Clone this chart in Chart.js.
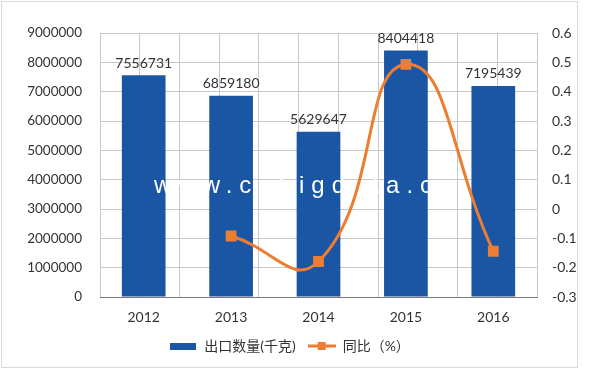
<!DOCTYPE html>
<html>
<head>
<meta charset="utf-8">
<script src="https://cdn.jsdelivr.net/npm/chart.js@4"></script>
<style>
  body { margin: 0; background: #fff; }
  #wrap { position: absolute; left: 1px; top: 1px; width: 575px; height: 365px; border: 1px solid #d9d9d9; }
</style>
</head>
<body>
<div id="wrap"><canvas id="chart"></canvas></div>
<script>
// data
const years = ['2012', '2013', '2014', '2015', '2016'];
const exportQty = [7556731, 6859180, 5629647, 8404418, 7195439];
const yoy = [null, -0.092, -0.179, 0.493, -0.144];
const leftTicks = [0, 9000000, 1000000];   // min, max, step
const rightTicks = [-0.3, 0.6, 0.1];

const BLUE = '#1b56a4';
const ORANGE = '#ed7d31';
const TXT = '#333333';
const FONT = "Lato, 'Noto Sans CJK SC', sans-serif";

// legend icons
function barIcon() {
    const c = document.createElement('canvas');
    c.width = 26; c.height = 7;
    const g = c.getContext('2d');
    g.fillStyle = BLUE;
    g.fillRect(0, 0, 26, 7);
    return c;
}
function lineIcon() {
    const c = document.createElement('canvas');
    c.width = 28; c.height = 10;
    const g = c.getContext('2d');
    g.strokeStyle = ORANGE;
    g.lineWidth = 3;
    g.beginPath(); g.moveTo(0, 5); g.lineTo(28, 5); g.stroke();
    g.fillStyle = ORANGE;
    g.fillRect(10, 1, 8, 8);
    return c;
}

// white watermark drawn over the bars, under the line
const watermark = {
    id: 'watermark',
    afterDatasetDraw(chart, args) {
        if (args.index !== 0) return;
        const ctx = chart.ctx;
        ctx.save();
        ctx.font = "24px 'Liberation Sans', sans-serif";
        ctx.fillStyle = '#fff';
        ctx.textBaseline = 'alphabetic';
        ctx.letterSpacing = '7px';
        ctx.fillText('www.cnbigdata.cn', 152, 191);
        ctx.restore();
    }
};

// value labels above bars
const barLabels = {
    id: 'barLabels',
    afterDatasetsDraw(chart) {
        const meta = chart.getDatasetMeta(0);
        const ctx = chart.ctx;
        ctx.save();
        ctx.font = '14px ' + FONT;
        ctx.fillStyle = TXT;
        ctx.textAlign = 'center';
        ctx.textBaseline = 'bottom';
        meta.data.forEach((bar, i) => {
            ctx.fillText(String(exportQty[i]), bar.x, bar.y - 5);
        });
        ctx.restore();
    }
};

new Chart(document.getElementById('chart'), {
    type: 'bar',
    data: {
        labels: years,
        datasets: [{
            type: 'bar',
            label: '出口数量(千克)',
            data: exportQty,
            backgroundColor: BLUE,
            barPercentage: 0.5,
            categoryPercentage: 1,
            yAxisID: 'y',
            order: 1
        }, {
            type: 'line',
            label: '同比（%）',
            data: yoy,
            borderColor: ORANGE,
            borderWidth: 3,
            backgroundColor: ORANGE,
            pointStyle: 'rect',
            pointRadius: 5.5,
            pointBackgroundColor: ORANGE,
            pointBorderColor: ORANGE,
            tension: 0.5,
            yAxisID: 'y1',
            order: 0
        }]
    },
    options: {
        responsive: true,
        maintainAspectRatio: false,
        animation: false,
        layout: { padding: { top: 31, left: 0, right: 0, bottom: 4 } },
        plugins: {
            tooltip: { enabled: false },
            legend: {
                position: 'bottom',
                labels: {
                    usePointStyle: true,
                    color: TXT,
                    font: { family: FONT, size: 14 },
                    padding: 12,
                    generateLabels() {
                        return [
                            { text: '出口数量(千克)', pointStyle: barIcon(), fontColor: TXT, datasetIndex: 0 },
                            { text: '同比（%）', pointStyle: lineIcon(), fontColor: TXT, datasetIndex: 1 }
                        ];
                    },
                    pointStyleWidth: 28
                }
            }
        },
        scales: {
            x: {
                grid: { display: false, drawTicks: false },
                border: { color: '#7a7a7a' },
                ticks: { color: TXT, font: { family: FONT, size: 14 }, padding: 12 },
                afterFit(s) { s.height = 30; }
            },
            xg: {
                type: 'linear',
                position: 'bottom',
                min: -0.5,
                max: 4.5,
                ticks: { display: false, stepSize: 0.5 },
                grid: { color: '#c8c8c8', drawTicks: false },
                border: { display: false },
                afterFit(s) { s.height = 0; }
            },
            y: {
                position: 'left',
                min: leftTicks[0],
                max: leftTicks[1],
                ticks: {
                    stepSize: leftTicks[2],
                    color: TXT,
                    font: { family: FONT, size: 13.5 },
                    padding: 18,
                    callback: v => String(v)
                },
                grid: { color: '#c8c8c8', drawTicks: false },
                border: { display: false },
                afterFit(s) { s.width = 98; }
            },
            y1: {
                position: 'right',
                min: rightTicks[0],
                max: rightTicks[1],
                ticks: {
                    stepSize: rightTicks[2],
                    color: TXT,
                    font: { family: FONT, size: 14 },
                    padding: 15,
                    callback: v => String(Math.round(v * 10) / 10)
                },
                grid: { display: false, drawTicks: false },
                border: { display: false },
                afterFit(s) { s.width = 40; }
            }
        }
    },
    plugins: [watermark, barLabels]
});
</script>
</body>
</html>
